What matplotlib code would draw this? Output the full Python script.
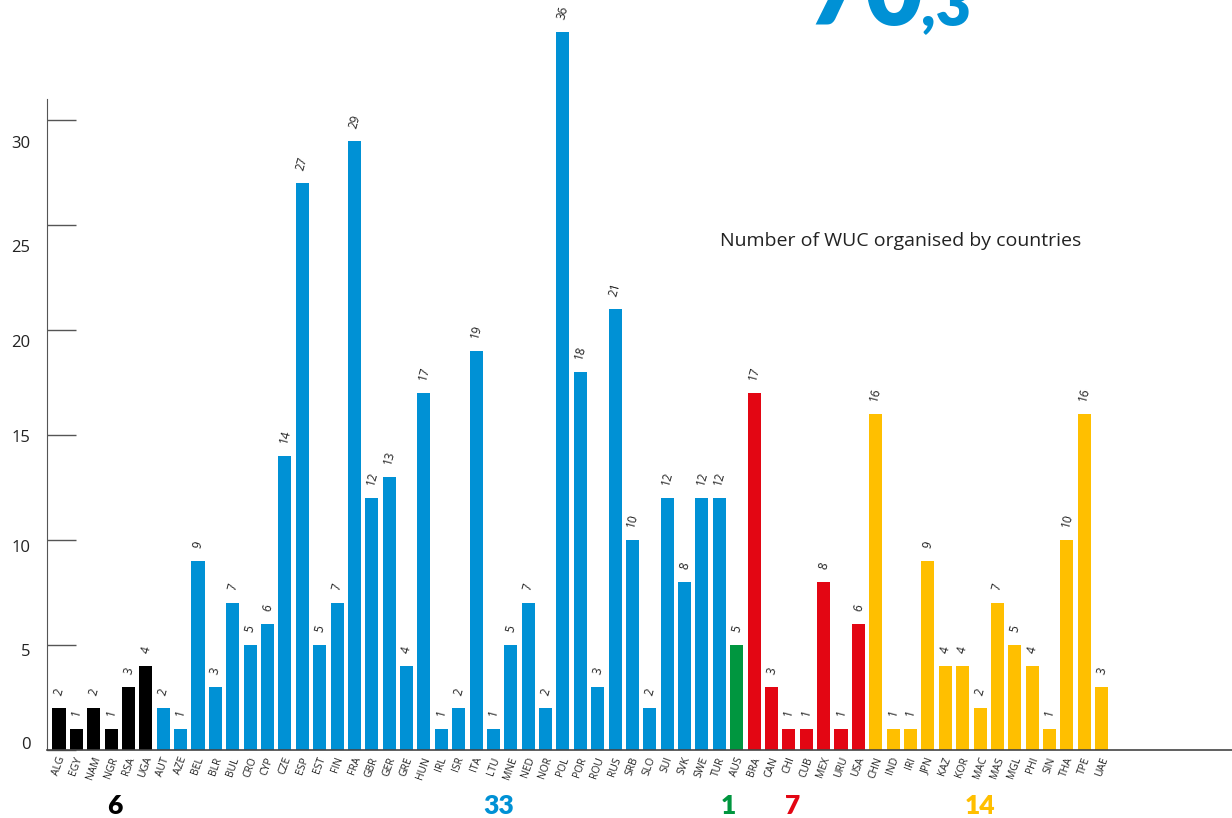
import numpy as np
import matplotlib.pyplot as plt
from matplotlib.transforms import ScaledTranslation

# countries grouped by continent
africa = ['ALG', 'EGY', 'NAM', 'NGR', 'RSA', 'UGA']
africa_n = [2, 1, 2, 1, 3, 4]
europe = ['AUT', 'AZE', 'BEL', 'BLR', 'BUL', 'CRO', 'CYP', 'CZE', 'ESP', 'EST', 'FIN',
          'FRA', 'GBR', 'GER', 'GRE', 'HUN', 'IRL', 'ISR', 'ITA', 'LTU', 'MNE', 'NED',
          'NOR', 'POL', 'POR', 'ROU', 'RUS', 'SRB', 'SLO', 'SUI', 'SVK', 'SWE', 'TUR']
europe_n = [2, 1, 9, 3, 7, 5, 6, 14, 27, 5, 7,
            29, 12, 13, 4, 17, 1, 2, 19, 1, 5, 7,
            2, 36, 18, 3, 21, 10, 2, 12, 8, 12, 12]
oceania = ['AUS']
oceania_n = [5]
americas = ['BRA', 'CAN', 'CHI', 'CUB', 'MEX', 'URU', 'USA']
americas_n = [17, 3, 1, 1, 8, 1, 6]
asia = ['CHN', 'IND', 'IRI', 'JPN', 'KAZ', 'KOR', 'MAC', 'MAS', 'MGL', 'PHI', 'SIN',
        'THA', 'TPE', 'UAE']
asia_n = [16, 1, 1, 9, 4, 4, 2, 7, 5, 4, 1, 10, 16, 3]

y_ticks = [0, 5, 10, 15, 20, 25, 30]
big_number = '70'
big_decimal = ',3'
chart_title = 'Number of WUC organised by countries'

groups = [
    (africa, africa_n, '#000000'),
    (europe, europe_n, '#0091d5'),
    (oceania, oceania_n, '#00963f'),
    (americas, americas_n, '#e30613'),
    (asia, asia_n, '#ffbf00'),
]

# the tallest bar is cut short in the original layout
bar_cap = 34.2
count_x = [3.2, 25.3, 38.5, 42.2, 53.0]
# tick labels in the original sit a little off their ticks (pixels, down = positive)
ylabel_shift = [-7, 5, 6, 1, 11, 21, 22]

fig = plt.figure(figsize=(12.32, 8.18), dpi=100)
ax = fig.add_axes([47 / 1232, 68 / 818, 1 - 47 / 1232, 750 / 818])

labels, values, colors = [], [], []
for names, counts, c in groups:
    labels += names
    values += counts
    colors += [c] * len(names)
x = np.arange(len(labels))
values = np.array(values)

ax.bar(x, np.minimum(values, bar_cap), width=0.75, color=colors)
for xi, v in zip(x, values):
    ax.annotate(str(v), (xi, min(v, bar_cap)), xytext=(0, 8), textcoords='offset points',
                ha='center', va='bottom', rotation=75, fontsize=8.5, color='#222222',
                family='Open Sans')

ax.set_xlim(-0.69, 67.5)
ax.set_ylim(0, 750 / 21)
ax.set_xticks(x)
ax.set_xticklabels(labels, rotation=70, fontsize=7.5, family='Open Sans', color='#222222')
ax.tick_params(axis='x', length=0, pad=4)

ax.set_yticks(y_ticks)
ax.set_yticklabels([str(t) for t in y_ticks], fontsize=12, family='Open Sans',
                   color='#222222')
ax.tick_params(axis='y', direction='in', length=21, width=1, color='#555555', pad=12)
for lab, dy in zip(ax.get_yticklabels(), ylabel_shift):
    lab.set_transform(lab.get_transform() + ScaledTranslation(0, -dy / 100, fig.dpi_scale_trans))

for s in ['top', 'right']:
    ax.spines[s].set_visible(False)
ax.spines['left'].set_bounds(0, 31)
ax.spines['left'].set_color('#555555')
ax.spines['bottom'].set_color('#444444')
ax.spines['bottom'].set_linewidth(1.2)

fig.text(720 / 1232, 1 - 241 / 818, chart_title, fontsize=14,
         family='Open Sans', color='#222222', ha='left', va='center')

for (names, counts, c), cx in zip(groups, count_x):
    t = ax.text(cx, 0, str(len(names)), ha='center', va='center', fontsize=19,
                fontweight='heavy', family='Lato', color=c)
    t.set_transform(ax.get_xaxis_transform() +
                    ScaledTranslation(0, -56 / 100, fig.dpi_scale_trans))

fig.text(807 / 1232, 1 - 25 / 818, big_number, fontsize=72, fontweight='heavy',
         family='Lato', color='#0091d5', ha='left', va='baseline')
fig.text(921 / 1232, 1 - 25 / 818, big_decimal, fontsize=44, fontweight='heavy',
         family='Lato', color='#0091d5', ha='left', va='baseline')

fig.savefig('out.png', dpi=100)
